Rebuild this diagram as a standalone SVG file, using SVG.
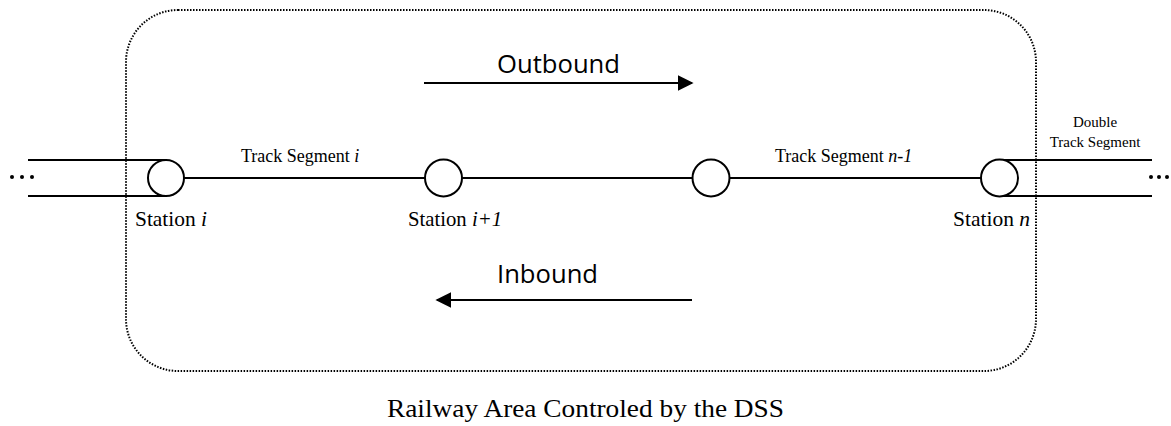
<svg xmlns="http://www.w3.org/2000/svg" width="1171" height="426" viewBox="0 0 1171 426">
  <style>
    .track { stroke: #000; stroke-width: 2; fill: none; }
    .station { stroke: #000; stroke-width: 2; fill: #fff; }
    .serif { font-family: "Liberation Serif", "Times New Roman", serif; fill: #000; }
    .sans { font-family: "Open Sans", "Liberation Sans", sans-serif; fill: #000; }
    .st { font-size: 21px; }
    .seg { font-size: 18px; }
    .small { font-size: 15px; }
    .dir { stroke: #000; stroke-width: 2; fill: none; }
  </style>
  <defs>
    <marker id="headL" viewBox="0 0 10 10" refX="9" refY="5" markerWidth="16" markerHeight="16" markerUnits="userSpaceOnUse" orient="auto">
      <path d="M0,0 L10,5 L0,10 z" fill="#000"/>
    </marker>
  </defs>

  <!-- controlled area boundary -->
  <rect id="area" x="126" y="10" width="910" height="361" rx="52" ry="52" fill="none" stroke="#000" stroke-width="2" stroke-dasharray="1.5 1.5"/>

  <!-- connectors: track segments and direction arrows -->
  <g id="connectors">
    <path class="track" d="M28,160 H166 M28,196 H166"/>
    <path class="track" d="M1000,160 H1152 M1000,196 H1152"/>
    <path class="track" d="M184,178 H425 M462,178 H692 M730,178 H981"/>
    <line class="dir" x1="424" y1="83" x2="692" y2="83" marker-end="url(#headL)"/>
    <line class="dir" x1="692" y1="300" x2="437" y2="300" marker-end="url(#headL)"/>
  </g>

  <!-- continuation dots -->
  <g id="dots" fill="#000">
    <circle cx="12" cy="177" r="2"/><circle cx="22" cy="177" r="2"/><circle cx="32" cy="177" r="2"/>
    <circle cx="1151" cy="177" r="2"/><circle cx="1159" cy="177" r="2"/><circle cx="1167" cy="177" r="2"/>
  </g>

  <g id="station-i">
    <circle class="station" cx="166" cy="178" r="18"/>
    <text class="serif st" x="135" y="226" textLength="72" lengthAdjust="spacingAndGlyphs">Station <tspan font-style="italic">i</tspan></text>
  </g>
  <g id="station-i1">
    <circle class="station" cx="443.5" cy="178" r="18.5"/>
    <text class="serif st" x="408" y="226" textLength="94" lengthAdjust="spacingAndGlyphs">Station <tspan font-style="italic">i+1</tspan></text>
  </g>
  <g id="station-n1">
    <circle class="station" cx="711" cy="178" r="18.5"/>
  </g>
  <g id="station-n">
    <circle class="station" cx="999.5" cy="178" r="18.5"/>
    <text class="serif st" x="953" y="226" textLength="77" lengthAdjust="spacingAndGlyphs">Station <tspan font-style="italic">n</tspan></text>
  </g>

  <g id="segment-labels">
    <text class="serif seg" x="241" y="162">Track Segment <tspan font-style="italic">i</tspan></text>
    <text class="serif seg" x="775" y="162">Track Segment <tspan font-style="italic">n-1</tspan></text>
    <text class="serif small" x="1095" y="127" text-anchor="middle">Double</text>
    <text class="serif small" x="1095" y="147" text-anchor="middle">Track Segment</text>
  </g>

  <text class="sans" x="497" y="73" font-size="25" textLength="123" lengthAdjust="spacingAndGlyphs">Outbound</text>
  <text class="sans" x="497" y="283" font-size="25" textLength="101" lengthAdjust="spacingAndGlyphs">Inbound</text>

  <text class="serif" x="387" y="417" font-size="26" textLength="397" lengthAdjust="spacingAndGlyphs">Railway Area Controled by the DSS</text>
</svg>
